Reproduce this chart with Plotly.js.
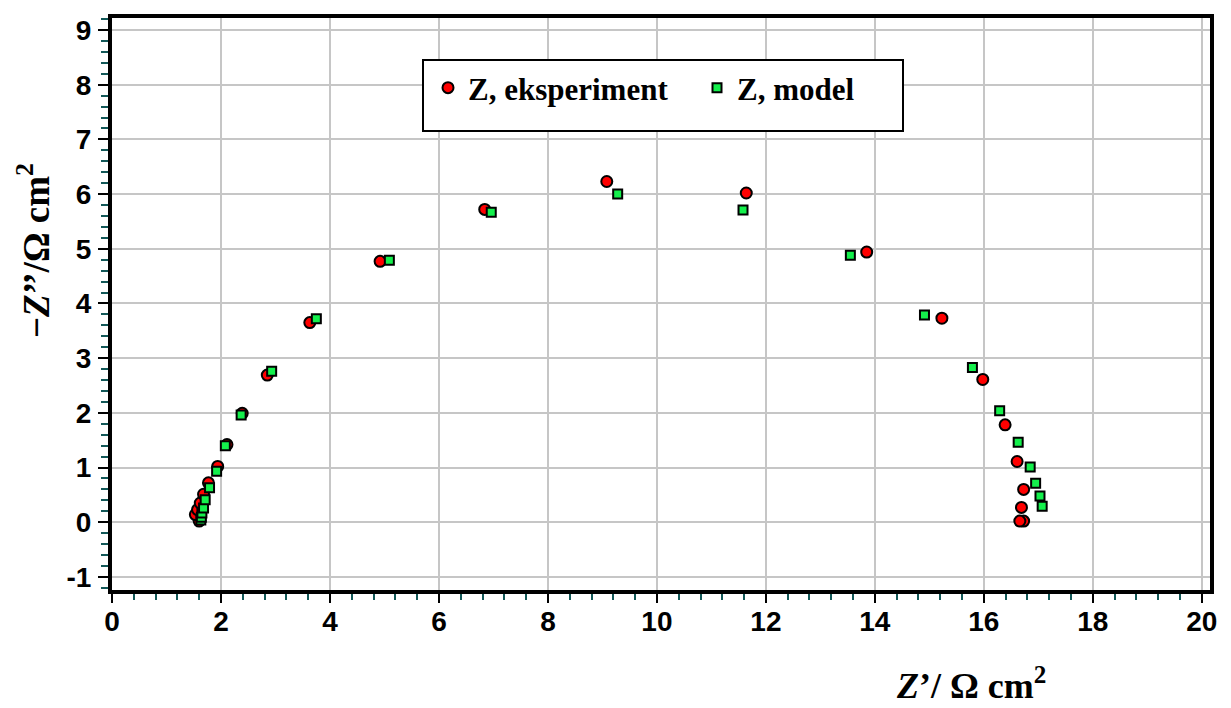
<!DOCTYPE html>
<html>
<head>
<meta charset="utf-8">
<script src="https://cdn.plot.ly/plotly-3.0.1.min.js"></script>
<style>html,body{margin:0;padding:0;background:#fff}#chart{width:1231px;height:708px}</style>
</head>
<body>
<div id="chart"></div>
<script>
// Experimental impedance (Z', -Z'')
const expRe = [1.60, 1.53, 1.57, 1.62, 1.68, 1.77, 1.94, 2.11, 2.39, 2.85, 3.63, 4.92, 6.84, 9.08, 11.64, 13.85, 15.23, 15.98, 16.39, 16.61, 16.73, 16.69, 16.73, 16.66];
const expIm = [0.02, 0.14, 0.23, 0.35, 0.51, 0.72, 1.02, 1.42, 1.99, 2.69, 3.65, 4.77, 5.72, 6.23, 6.02, 4.94, 3.73, 2.61, 1.78, 1.11, 0.60, 0.27, 0.02, 0.02];
// Model impedance
const modRe = [1.63, 1.64, 1.65, 1.68, 1.71, 1.79, 1.92, 2.08, 2.37, 2.93, 3.75, 5.09, 6.96, 9.28, 11.58, 13.55, 14.91, 15.79, 16.29, 16.63, 16.85, 16.95, 17.03, 17.07];
const modIm = [0.04, 0.09, 0.17, 0.26, 0.41, 0.63, 0.93, 1.40, 1.96, 2.76, 3.72, 4.79, 5.67, 6.00, 5.71, 4.88, 3.79, 2.83, 2.04, 1.46, 1.01, 0.71, 0.48, 0.29];
const seriesNames = ["Z, eksperiment", "Z, model"];
const xTickVals = [0, 2, 4, 6, 8, 10, 12, 14, 16, 18, 20];
const yTickVals = [-1, 0, 1, 2, 3, 4, 5, 6, 7, 8, 9];

const W = 1231, H = 708;
const M = {l: 112, r: 21, t: 18, b: 118};
const PW = W - M.l - M.r, PH = H - M.t - M.b;
const px = v => (v - M.l) / PW;
const py = v => (H - M.b - v) / PH;

const tickFont = {family: "Liberation Sans, Arial, sans-serif", size: 28, color: "#000", weight: "bold"};
const serif = "Liberation Serif, Times New Roman, serif";

const traces = [
  {x: expRe, y: expIm, name: seriesNames[0], type: "scatter", mode: "markers",
   marker: {symbol: "circle", size: 11, color: "#ff0000", line: {color: "#000", width: 2}}},
  {x: modRe, y: modIm, name: seriesNames[1], type: "scatter", mode: "markers",
   marker: {symbol: "square", size: 9, color: "#14f04c", line: {color: "#000", width: 2}}}
];

const layout = {
  width: W, height: H,
  margin: M,
  paper_bgcolor: "#fff", plot_bgcolor: "#fff",
  showlegend: true,
  legend: {
    orientation: "h", x: px(428), y: py(61), xanchor: "left", yanchor: "top",
    bgcolor: "rgba(0,0,0,0)", borderwidth: 0,
    font: {family: serif, size: 31, color: "#000", weight: "bold"},
    entrywidth: 224, entrywidthmode: "pixels"
  },
  xaxis: {
    range: [0, 20.15], tickvals: xTickVals, ticktext: xTickVals.map(String),
    showgrid: true, gridcolor: "#c6c6c6", gridwidth: 2, zeroline: false,
    showline: true, linecolor: "#000", linewidth: 4, mirror: true,
    ticks: "outside", ticklen: 9, tickwidth: 2, tickcolor: "#000",
    tickfont: tickFont, ticklabelstandoff: -6,
    minor: {dtick: 0.4, tick0: 0, ticks: "outside", ticklen: 6, tickwidth: 2, tickcolor: "#125858", showgrid: false}
  },
  yaxis: {
    range: [-1.24, 9.22], tickvals: yTickVals, ticktext: yTickVals.map(String),
    showgrid: true, gridcolor: "#c6c6c6", gridwidth: 2, zeroline: false,
    showline: true, linecolor: "#000", linewidth: 4, mirror: true,
    ticks: "outside", ticklen: 10, tickwidth: 2, tickcolor: "#000",
    tickfont: tickFont, ticklabelstandoff: 1,
    minor: {dtick: 0.2, tick0: 0, ticks: "outside", ticklen: 7, tickwidth: 2, tickcolor: "#125858", showgrid: false}
  },
  shapes: [
    {type: "rect", xref: "paper", yref: "paper", x0: px(423), x1: px(903), y0: py(131), y1: py(60),
     fillcolor: "#fff", line: {color: "#000", width: 2}, layer: "above"}
  ],
  annotations: [
    {xref: "paper", yref: "paper", x: px(894), y: py(683), xanchor: "left", yanchor: "middle",
     text: "<i>Z</i>’/ Ω cm<sup>2</sup>", showarrow: false,
     font: {family: serif, size: 36, color: "#000", weight: "bold"}},
    {xref: "paper", yref: "paper", x: px(34), y: py(251), xanchor: "center", yanchor: "middle",
     text: "−<i>Z</i>’’/Ω cm<sup>2</sup>", showarrow: false, textangle: -90,
     font: {family: serif, size: 37, color: "#000", weight: "bold"}}
  ]
};

Plotly.newPlot("chart", traces, layout, {displayModeBar: false, staticPlot: true});
</script>
</body>
</html>
